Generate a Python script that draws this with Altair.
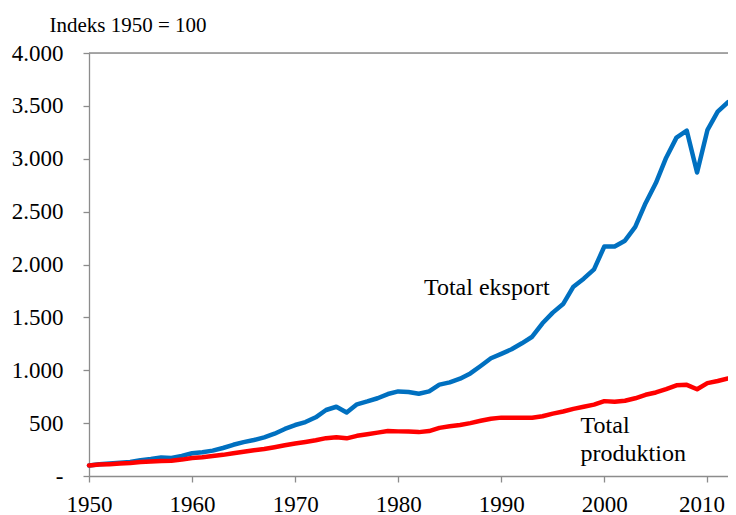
import altair as alt
import pandas as pd

years = list(range(1950, 2013))

eksport = [100, 112, 118, 125, 132, 150, 160, 175, 170, 190,
           215, 225, 240, 265, 295, 320, 340, 365, 400, 445,
           482, 510, 555, 624, 655, 600, 678, 705, 735, 775,
           800, 795, 778, 800, 864, 885, 920, 970, 1040, 1113,
           1155, 1198, 1255, 1317, 1444, 1545, 1626, 1790, 1866, 1954,
           2170, 2170, 2225, 2355, 2580, 2770, 3010, 3200, 3265, 2870,
           3270, 3445, 3535]

produktion = [100, 108, 112, 118, 122, 132, 138, 143, 145, 155,
              170, 178, 190, 200, 215, 230, 243, 255, 272, 290,
              308, 322, 338, 358, 366, 356, 380, 395, 410, 425,
              422, 420, 415, 425, 455, 470, 482, 500, 522, 542,
              552, 550, 552, 550, 565, 590, 610, 635, 655, 675,
              708, 702, 712, 735, 768, 790, 822, 858, 862, 820,
              878, 898, 922]

series_names = ["Total eksport", "Total produktion"]
series_colors = ["#0070C0", "#FF0000"]

label_text = ["Total eksport", "Total", "produktion"]
label_year = [1982.5, 1997.7, 1997.7]
label_value = [1712, 407, 142]

y_title = "Indeks 1950 = 100"

df = pd.DataFrame({
    "year": years * 2,
    "value": eksport + produktion,
    "serie": [series_names[0]] * len(years) + [series_names[1]] * len(years),
})
labels = pd.DataFrame({"text": label_text, "year": label_year, "value": label_value})

FONT = "Liberation Serif, Tinos, Times New Roman, DejaVu Serif, serif"
GRAY = "#8c8c8c"

x_scale = alt.Scale(domain=[1950, 2012], nice=False, zero=False)
y_scale = alt.Scale(domain=[0, 4000], nice=False)

lines = alt.Chart(df).mark_line(strokeWidth=4.5, strokeJoin="round", strokeCap="round").encode(
    x=alt.X("year:Q", scale=x_scale, axis=alt.Axis(
        values=[1950, 1960, 1970, 1980, 1990, 2000, 2010], format="d", title=None,
        grid=False, domainColor=GRAY, domainWidth=1.3, tickColor=GRAY, tickSize=6,
        tickWidth=1.3, labelFont=FONT, labelFontSize=23, labelColor="#000",
        labelPadding=11, labelFlush=False,
        labelOffset={"expr": "datum.value == 2010 ? -6 : 0"})),
    y=alt.Y("value:Q", scale=y_scale, axis=alt.Axis(
        values=[0, 500, 1000, 1500, 2000, 2500, 3000, 3500, 4000], grid=False,
        domainColor=GRAY, domainWidth=1.3, tickColor=GRAY, tickSize=6, tickWidth=1.3,
        labelFont=FONT, labelFontSize=23, labelColor="#000", labelPadding=20,
        labelExpr="datum.value == 0 ? '-\u00a0\u00a0' : replace(format(datum.value, ','), ',', '.')",
        title=y_title, titleAngle=0, titleAlign="left", titleBaseline="alphabetic",
        titleX=-40, titleY=-22, titleFont=FONT, titleFontSize=21,
        titleFontWeight="normal", titleColor="#000")),
    color=alt.Color("serie:N", scale=alt.Scale(domain=series_names, range=series_colors), legend=None),
)

top_rule = alt.Chart().mark_rule(color=GRAY, strokeWidth=1.3).encode(y=alt.datum(4000, scale=y_scale))

texts = alt.Chart(labels).mark_text(
    align="left", baseline="alphabetic", font=FONT, fontSize=24, color="#000"
).encode(x=alt.X("year:Q", scale=x_scale), y=alt.Y("value:Q", scale=y_scale), text="text:N")

chart = alt.layer(top_rule, lines, texts).properties(
    width=639, height=423,
    autosize=alt.AutoSizeParams(type="none"),
    padding={"left": 81, "top": 45, "right": 0, "bottom": 40},
).configure_view(stroke=None).configure(background="white")

chart.save("out.html", embed_options={"renderer": "svg", "actions": False})
